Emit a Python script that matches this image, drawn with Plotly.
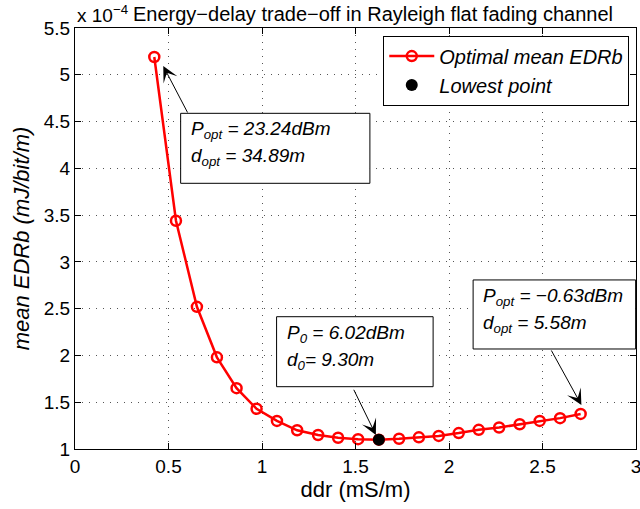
import plotly.graph_objects as go

# ---- data ----
ddr = [0.424, 0.540, 0.652, 0.759, 0.864, 0.971, 1.080, 1.188, 1.300, 1.407, 1.514,
       1.625, 1.733, 1.839, 1.945, 2.052, 2.159, 2.268, 2.378, 2.485, 2.594, 2.704]
edrb = [5.19, 3.44, 2.52, 1.98, 1.65, 1.43, 1.30, 1.20, 1.15, 1.12, 1.105,
        1.10, 1.11, 1.125, 1.14, 1.17, 1.205, 1.23, 1.265, 1.30, 1.33, 1.375]
lowest_x = [1.625]
lowest_y = [1.10]

x_ticks = [0, 0.5, 1, 1.5, 2, 2.5, 3]
x_ticklabels = ["0", "0.5", "1", "1.5", "2", "2.5", "3"]
y_ticks = [1, 1.5, 2, 2.5, 3, 3.5, 4, 4.5, 5, 5.5]
y_ticklabels = ["1", "1.5", "2", "2.5", "3", "3.5", "4", "4.5", "5", "5.5"]

series_names = ["Optimal mean EDRb", "Lowest point"]
title_text = "Energy\u2212delay trade\u2212off in Rayleigh flat fading channel"
exp_text = "x 10<sup>\u22124</sup>"
x_title = "ddr (mS/m)"
y_title = "mean EDRb (mJ/bit/m)"

# callout boxes
box_x0 = [0.565, 1.078, 2.129]
box_x1 = [1.577, 1.915, 2.998]
box_ytop = [4.588, 2.414, 2.807]
box_ybot = [3.840, 1.666, 2.069]
box_lines = [
    ["P<sub>opt</sub> = 23.24dBm", "d<sub>opt</sub> = 34.89m"],
    ["P<sub>0</sub> = 6.02dBm", "d<sub>0</sub>= 9.30m"],
    ["P<sub>opt</sub> = \u22120.63dBm", "d<sub>opt</sub> = 5.58m"],
]
# arrows: tip and tail
arrow_tip_x = [0.472, 1.609, 2.708]
arrow_tip_y = [5.094, 1.150, 1.470]
arrow_tail_x = [0.606, 1.487, 2.543]
arrow_tail_y = [4.581, 1.649, 2.069]

FONT = "Liberation Sans, Arial, Helvetica, sans-serif"

fig = go.Figure()
fig.add_trace(go.Scatter(
    x=ddr, y=edrb, mode="lines+markers", name="<i>" + series_names[0] + "</i>",
    line=dict(color="#ff0000", width=2.5),
    marker=dict(symbol="circle-open", size=10, color="#ff0000",
                line=dict(width=2.5, color="#ff0000")),
))
fig.add_trace(go.Scatter(
    x=lowest_x, y=lowest_y, mode="markers", name="<i>" + series_names[1] + "</i>",
    marker=dict(color="black", size=12),
))

shapes = []
annotations = []
for i in range(3):
    shapes.append(dict(type="rect", xref="x", yref="y",
                       x0=box_x0[i], x1=box_x1[i], y0=box_ybot[i], y1=box_ytop[i],
                       line=dict(color="black", width=1), fillcolor="white", layer="above"))
    for j, s in enumerate(box_lines[i]):
        annotations.append(dict(
            xref="x", yref="y", x=box_x0[i], y=box_ytop[i],
            xanchor="left", yanchor="top", xshift=8, yshift=-3 - 27 * j,
            align="left", showarrow=False,
            text="<i>" + s + "</i>",
            font=dict(family=FONT, size=19, color="black"),
        ))
    annotations.append(dict(
        xref="x", yref="y", axref="x", ayref="y",
        x=arrow_tip_x[i], y=arrow_tip_y[i], ax=arrow_tail_x[i], ay=arrow_tail_y[i],
        text="", showarrow=True, arrowhead=3, arrowsize=2.6, arrowwidth=1,
        arrowcolor="black", standoff=0, startstandoff=0,
    ))

annotations.append(dict(
    xref="paper", yref="paper", x=0, y=1.0, yshift=14, xanchor="left", yanchor="middle",
    text=exp_text, showarrow=False, font=dict(family=FONT, size=19, color="black"),
))
annotations.append(dict(
    xref="paper", yref="paper", x=0.0993, y=1.0, yshift=14, xanchor="left", yanchor="middle",
    text=title_text, showarrow=False, font=dict(family=FONT, size=20, color="black"),
))

axis_common = dict(
    ticks="inside", ticklen=6, tickcolor="black", tickwidth=1,
    showline=True, linecolor="black", linewidth=1, mirror="ticks",
    showgrid=True, gridcolor="#555555", gridwidth=1, griddash="1px,6px",
    zeroline=False, tickfont=dict(family=FONT, size=19, color="black"),
    automargin=False, ticklabeloverflow="allow",
)

fig.update_layout(
    width=640, height=509,
    margin=dict(l=75, r=4, t=28, b=60),
    paper_bgcolor="white", plot_bgcolor="white",
    font=dict(family=FONT, color="black"),
    xaxis=dict(range=[0, 3], tickvals=x_ticks, ticktext=x_ticklabels,
               title=dict(text=x_title, font=dict(family=FONT, size=22), standoff=4),
               **axis_common),
    yaxis=dict(range=[1, 5.5], tickvals=y_ticks, ticktext=y_ticklabels,
               title=dict(text="<i>" + y_title + "</i>", font=dict(family=FONT, size=22), standoff=8),
               **axis_common),
    legend=dict(x=0.988, y=0.982, xanchor="right", yanchor="top",
                bordercolor="black", borderwidth=1, bgcolor="white",
                font=dict(family=FONT, size=20, color="black"),
                tracegroupgap=0, itemwidth=45),
    shapes=shapes, annotations=annotations,
    showlegend=True,
)

fig.write_html("out.html", config={"displayModeBar": False},
               post_script="document.body.style.margin='0px';")
